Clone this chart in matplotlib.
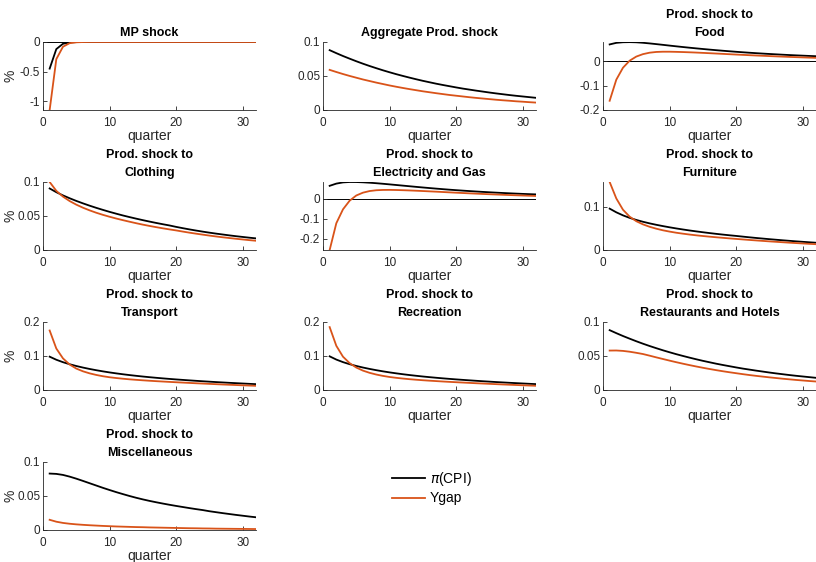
import matplotlib.pyplot as plt
import numpy as np
from matplotlib.ticker import FuncFormatter

plt.rcParams["font.family"] = ["Liberation Sans", "DejaVu Sans"]

quarters = np.arange(1, 33)

titles = [
    "MP shock",
    "Aggregate Prod. shock",
    "Prod. shock to\nFood",
    "Prod. shock to\nClothing",
    "Prod. shock to\nElectricity and Gas",
    "Prod. shock to\nFurniture",
    "Prod. shock to\nTransport",
    "Prod. shock to\nRecreation",
    "Prod. shock to\nRestaurants and Hotels",
    "Prod. shock to\nMiscellaneous",
]

# inflation (CPI) responses
cpi_mp = [-0.45, -0.12, -0.03, -0.007, -0.002, -0.0005, 0, 0, 0, 0, 0, 0, 0, 0, 0, 0,
          0, 0, 0, 0, 0, 0, 0, 0, 0, 0, 0, 0, 0, 0, 0, 0]
cpi_agg = [0.0880, 0.0836, 0.0794, 0.0755, 0.0717, 0.0681, 0.0647, 0.0615, 0.0584, 0.0555,
           0.0527, 0.0501, 0.0476, 0.0452, 0.0429, 0.0408, 0.0387, 0.0368, 0.0350, 0.0332,
           0.0315, 0.0300, 0.0285, 0.0271, 0.0257, 0.0244, 0.0232, 0.0220, 0.0209, 0.0199,
           0.0189, 0.0179]
cpi_food = [0.0700, 0.0765, 0.0790, 0.0795, 0.0788, 0.0768, 0.0742, 0.0713, 0.0683, 0.0652,
            0.0622, 0.0593, 0.0565, 0.0538, 0.0512, 0.0487, 0.0463, 0.0440, 0.0418, 0.0397,
            0.0377, 0.0358, 0.0340, 0.0323, 0.0307, 0.0292, 0.0277, 0.0263, 0.0250, 0.0238,
            0.0226, 0.0215]
cpi_cloth = [0.0905, 0.0850, 0.0803, 0.0761, 0.0722, 0.0686, 0.0652, 0.0620, 0.0590, 0.0561,
             0.0534, 0.0508, 0.0484, 0.0461, 0.0439, 0.0418, 0.0398, 0.0379, 0.0361, 0.0340,
             0.0321, 0.0303, 0.0286, 0.0270, 0.0255, 0.0241, 0.0228, 0.0215, 0.0203, 0.0192,
             0.0181, 0.0171]
cpi_elec = [0.0640, 0.0750, 0.0810, 0.0830, 0.0828, 0.0815, 0.0795, 0.0770, 0.0742, 0.0712,
            0.0681, 0.0650, 0.0619, 0.0588, 0.0558, 0.0529, 0.0501, 0.0474, 0.0448, 0.0424,
            0.0401, 0.0379, 0.0358, 0.0338, 0.0319, 0.0301, 0.0284, 0.0268, 0.0253, 0.0239,
            0.0226, 0.0214]
cpi_furn = [0.0955, 0.0870, 0.0800, 0.0742, 0.0694, 0.0652, 0.0615, 0.0582, 0.0552, 0.0524,
            0.0498, 0.0474, 0.0451, 0.0430, 0.0410, 0.0391, 0.0373, 0.0356, 0.0340, 0.0325,
            0.0309, 0.0293, 0.0278, 0.0264, 0.0250, 0.0237, 0.0224, 0.0212, 0.0200, 0.0189,
            0.0178, 0.0168]
cpi_trans = [0.0980, 0.0890, 0.0818, 0.0758, 0.0706, 0.0660, 0.0619, 0.0582, 0.0548, 0.0517,
             0.0489, 0.0463, 0.0439, 0.0417, 0.0396, 0.0377, 0.0359, 0.0342, 0.0326, 0.0311,
             0.0297, 0.0283, 0.0270, 0.0257, 0.0245, 0.0233, 0.0222, 0.0211, 0.0201, 0.0191,
             0.0181, 0.0172]
cpi_recr = [0.0990, 0.0895, 0.0820, 0.0759, 0.0707, 0.0661, 0.0620, 0.0583, 0.0549, 0.0518,
            0.0490, 0.0464, 0.0440, 0.0418, 0.0397, 0.0378, 0.0360, 0.0343, 0.0327, 0.0312,
            0.0298, 0.0284, 0.0271, 0.0258, 0.0246, 0.0234, 0.0223, 0.0212, 0.0202, 0.0192,
            0.0182, 0.0173]
cpi_rest = [0.0880, 0.0836, 0.0794, 0.0755, 0.0717, 0.0681, 0.0647, 0.0615, 0.0584, 0.0555,
            0.0527, 0.0501, 0.0476, 0.0452, 0.0429, 0.0408, 0.0387, 0.0368, 0.0350, 0.0332,
            0.0315, 0.0300, 0.0285, 0.0271, 0.0257, 0.0244, 0.0232, 0.0220, 0.0209, 0.0199,
            0.0189, 0.0179]
cpi_misc = [0.0830, 0.0825, 0.0810, 0.0785, 0.0755, 0.0722, 0.0688, 0.0654, 0.0620, 0.0588,
            0.0557, 0.0528, 0.0500, 0.0474, 0.0450, 0.0428, 0.0408, 0.0389, 0.0371, 0.0354,
            0.0338, 0.0322, 0.0307, 0.0293, 0.0276, 0.0262, 0.0248, 0.0235, 0.0222, 0.0210,
            0.0198, 0.0187]

# output gap responses
ygap_mp = [-1.15, -0.29, -0.08, -0.02, -0.005, -0.001, 0, 0, 0, 0, 0, 0, 0, 0, 0, 0,
           0, 0, 0, 0, 0, 0, 0, 0, 0, 0, 0, 0, 0, 0, 0, 0]
ygap_agg = [0.0590, 0.0559, 0.0529, 0.0501, 0.0475, 0.0449, 0.0426, 0.0403, 0.0382, 0.0361,
            0.0342, 0.0324, 0.0307, 0.0291, 0.0275, 0.0261, 0.0247, 0.0234, 0.0221, 0.0210,
            0.0199, 0.0188, 0.0178, 0.0169, 0.0160, 0.0151, 0.0143, 0.0136, 0.0128, 0.0122,
            0.0115, 0.0109]
ygap_food = [-0.162, -0.075, -0.026, 0.003, 0.020, 0.030, 0.036, 0.039, 0.040, 0.0400,
             0.0394, 0.0386, 0.0376, 0.0365, 0.0352, 0.0339, 0.0325, 0.0311, 0.0297, 0.0283,
             0.0270, 0.0257, 0.0244, 0.0232, 0.0220, 0.0208, 0.0197, 0.0186, 0.0176, 0.0166,
             0.0156, 0.0147]
ygap_cloth = [0.1000, 0.0870, 0.0785, 0.0720, 0.0667, 0.0622, 0.0583, 0.0548, 0.0517, 0.0489,
              0.0463, 0.0439, 0.0416, 0.0394, 0.0373, 0.0354, 0.0336, 0.0319, 0.0303, 0.0288,
              0.0271, 0.0255, 0.0240, 0.0226, 0.0212, 0.0199, 0.0187, 0.0176, 0.0165, 0.0155,
              0.0145, 0.0136]
ygap_elec = [-0.255, -0.122, -0.053, -0.010, 0.016, 0.030, 0.038, 0.042, 0.0435, 0.0438,
             0.0432, 0.0422, 0.0410, 0.0396, 0.0381, 0.0365, 0.0349, 0.0332, 0.0315, 0.0298,
             0.0282, 0.0266, 0.0251, 0.0236, 0.0222, 0.0208, 0.0195, 0.0182, 0.0170, 0.0158,
             0.0147, 0.0136]
ygap_furn = [0.157, 0.119, 0.093, 0.077, 0.0665, 0.0592, 0.0536, 0.0492, 0.0455, 0.0425,
             0.0399, 0.0377, 0.0357, 0.0339, 0.0323, 0.0308, 0.0294, 0.0281, 0.0268, 0.0256,
             0.0244, 0.0232, 0.0221, 0.0210, 0.0199, 0.0189, 0.0179, 0.0169, 0.0160, 0.0151,
             0.0142, 0.0134]
ygap_trans = [0.175, 0.122, 0.093, 0.075, 0.063, 0.0550, 0.0490, 0.0443, 0.0405, 0.0375,
              0.0352, 0.0332, 0.0314, 0.0299, 0.0285, 0.0272, 0.0260, 0.0249, 0.0238, 0.0228,
              0.0218, 0.0208, 0.0198, 0.0189, 0.0180, 0.0171, 0.0162, 0.0154, 0.0146, 0.0138,
              0.0130, 0.0123]
ygap_recr = [0.185, 0.130, 0.098, 0.079, 0.066, 0.0570, 0.0505, 0.0455, 0.0415, 0.0383,
             0.0358, 0.0337, 0.0318, 0.0302, 0.0287, 0.0274, 0.0262, 0.0250, 0.0239, 0.0229,
             0.0219, 0.0209, 0.0199, 0.0190, 0.0181, 0.0172, 0.0163, 0.0155, 0.0147, 0.0139,
             0.0131, 0.0124]
ygap_rest = [0.0580, 0.0581, 0.0575, 0.0563, 0.0547, 0.0529, 0.0505, 0.0480, 0.0456, 0.0432,
             0.0409, 0.0387, 0.0366, 0.0346, 0.0327, 0.0309, 0.0292, 0.0276, 0.0261, 0.0247,
             0.0233, 0.0220, 0.0208, 0.0197, 0.0186, 0.0176, 0.0166, 0.0157, 0.0148, 0.0140,
             0.0132, 0.0125]
ygap_misc = [0.0150, 0.0122, 0.0104, 0.0092, 0.0083, 0.0076, 0.0070, 0.0065, 0.0060, 0.0056,
             0.0052, 0.0049, 0.0046, 0.0043, 0.0041, 0.0038, 0.0036, 0.0034, 0.0032, 0.0030,
             0.0028, 0.0026, 0.0025, 0.0023, 0.0022, 0.0020, 0.0019, 0.0018, 0.0017, 0.0016,
             0.0015, 0.0014]

cpi_series = [cpi_mp, cpi_agg, cpi_food, cpi_cloth, cpi_elec, cpi_furn,
              cpi_trans, cpi_recr, cpi_rest, cpi_misc]
ygap_series = [ygap_mp, ygap_agg, ygap_food, ygap_cloth, ygap_elec, ygap_furn,
               ygap_trans, ygap_recr, ygap_rest, ygap_misc]

ylims = [(-1.15, 0), (0, 0.1), (-0.2, 0.08), (0, 0.1), (-0.255, 0.083),
         (0, 0.157), (0, 0.2), (0, 0.2), (0, 0.1), (0, 0.1)]
yticks = [[-1, -0.5, 0], [0, 0.05, 0.1], [-0.2, -0.1, 0], [0, 0.05, 0.1],
          [-0.2, -0.1, 0], [0, 0.1], [0, 0.1, 0.2], [0, 0.1, 0.2],
          [0, 0.05, 0.1], [0, 0.05, 0.1]]

W, H = 816, 562
fig = plt.figure(figsize=(W / 100, H / 100), dpi=100)

lefts = [43, 323, 603]
tops = [42, 182, 322, 462]
aw, ah = 213, 68
axcol = "#262626"
orange = "#D95319"

lines = None
for i in range(10):
    r, c = divmod(i, 3)
    ax = fig.add_axes([lefts[c] / W, 1 - (tops[r] + ah) / H, aw / W, ah / H])
    ax.axhline(0, color="k", lw=0.7, zorder=1)
    l1, = ax.plot(quarters, cpi_series[i], color="k", lw=1.3, zorder=2)
    l2, = ax.plot(quarters, ygap_series[i], color=orange, lw=1.3, zorder=3)
    lines = (l1, l2)
    ax.set_xlim(0, 32)
    ax.set_ylim(*ylims[i])
    ax.set_xticks([0, 10, 20, 30])
    ax.set_yticks(yticks[i])
    ax.yaxis.set_major_formatter(FuncFormatter(lambda v, p: f"{v:g}"))
    for s in ["top", "right"]:
        ax.spines[s].set_visible(False)
    for s in ["left", "bottom"]:
        ax.spines[s].set_color(axcol)
        ax.spines[s].set_linewidth(0.6)
    ax.tick_params(direction="in", length=3, width=0.6, colors=axcol,
                   labelsize=8.5, pad=2)
    ax.tick_params(axis="x", pad=5)
    ax.set_xlabel("quarter", fontsize=10, color=axcol, labelpad=0)
    if c == 0:
        ax.set_ylabel("%", fontsize=10, color=axcol)
        ax.yaxis.set_label_coords(-0.12, 0.5)
    ax.set_title(titles[i], fontsize=9, fontweight="bold", linespacing=1.75, pad=4)

fig.legend(lines, ["$\\pi$(CPI)", "Ygap"], loc="upper left",
           bbox_to_anchor=(392 / W, 1 - 470 / H), frameon=False, fontsize=10,
           handlelength=2.4, handletextpad=0.3, labelspacing=0.25,
           borderpad=0, borderaxespad=0)

fig.savefig("out.png", dpi=100)
